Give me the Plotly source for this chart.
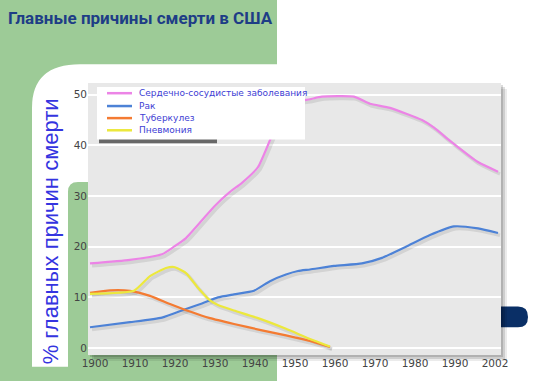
import plotly.graph_objects as go

# ---------------- data ----------------
title_text = "Главные причины смерти в США"
y_title = "% главных причин смерти"

series_names = ["Сердечно-сосудистые заболевания", "Рак", "Туберкулез", "Пневмония"]
series_colors = ["#ec84e6", "#4d82d6", "#f47b32", "#ece83c"]

cv_years = [1900, 1910, 1918, 1921, 1924, 1928, 1931, 1935, 1938, 1942, 1945, 1948, 1951,
            1955, 1958, 1966, 1970, 1975, 1983, 1986, 1990, 1997, 2002]
cv_vals = [16.7, 17.4, 18.5, 20.0, 21.7, 25.2, 27.9, 30.8, 32.6, 35.7, 41.0, 46.3, 48.5,
           49.1, 49.6, 49.6, 48.2, 47.4, 45.0, 43.5, 40.9, 36.7, 34.8]

cancer_years = [1900, 1910, 1918, 1924, 1928, 1932, 1936, 1941, 1945, 1949, 1952, 1955,
                1961, 1968, 1973, 1979, 1985, 1991, 1997, 2002]
cancer_vals = [4.1, 5.1, 6.0, 7.7, 8.8, 10.0, 10.6, 11.3, 13.2, 14.5, 15.2, 15.5,
               16.2, 16.7, 17.8, 20.0, 22.3, 24.0, 23.6, 22.7]

tb_years = [1900, 1905, 1910, 1915, 1920, 1925, 1930, 1936, 1943, 1949, 1955, 1960]
tb_vals = [10.9, 11.4, 11.3, 10.3, 8.7, 7.2, 5.9, 4.75, 3.5, 2.5, 1.4, 0.2]

pn_years = [1900, 1911, 1915, 1919, 1921, 1924, 1927, 1930, 1932, 1936, 1942, 1949, 1955, 1960]
pn_vals = [10.7, 11.3, 14.2, 15.8, 16.0, 14.8, 11.9, 9.4, 8.5, 7.4, 5.9, 3.8, 1.8, 0.3]

x_tickvals = [1900, 1910, 1920, 1930, 1940, 1950, 1960, 1970, 1980, 1990, 2000]
x_ticktext = ["1900", "1910", "1920", "1930", "1940", "1950", "1960", "1970", "1980", "1990", "2002"]
y_tickvals = [0, 10, 20, 30, 40, 50]

# ---------------- layout geometry (pixels) ----------------
W, H = 544, 381
L, R, T, B = 88, 501, 83, 358          # plot area in page pixels


def px(xp):
    return (xp - L) / (R - L)


def py(yp):
    return (B - yp) / (B - T)


def P(xp, yp):
    return f"{px(xp):.5f},{py(yp):.5f}"


GREEN = "#9dcb97"

fig = go.Figure()

series = [
    (cv_years, cv_vals),
    (cancer_years, cancer_vals),
    (tb_years, tb_vals),
    (pn_years, pn_vals),
]

# soft drop shadows of the lines
for xs, ys in series:
    fig.add_trace(go.Scatter(
        x=[v + 0.5 for v in xs], y=[v - 0.45 for v in ys], mode="lines",
        line=dict(color="rgba(0,0,0,0.09)", width=3.5, shape="spline", smoothing=0.5),
        hoverinfo="skip", showlegend=False))

for (xs, ys), name, col in zip(series, series_names, series_colors):
    fig.add_trace(go.Scatter(
        x=xs, y=ys, mode="lines", name=name,
        line=dict(color=col, width=2.2, shape="spline", smoothing=0.5),
        showlegend=False))

shapes = []
# green slide panel
shapes.append(dict(type="rect", xref="paper", yref="paper", layer="below",
                   x0=px(-5), x1=px(277), y0=py(386), y1=py(-5),
                   fillcolor=GREEN, line=dict(width=0)))
# white rounded panel + y-title box
path = (f"M{P(32,370)} L{P(32,108)} Q{P(32,64)} {P(80,64)} L{P(277,64)} L{P(277,183)} "
        f"L{P(78,183)} Q{P(68,183)} {P(68,193)} L{P(68,370)} Z")
shapes.append(dict(type="path", xref="paper", yref="paper", layer="below", path=path,
                   fillcolor="white", line=dict(width=0)))
# dark blue tab on the right
tab = (f"M{P(498,309)} L{P(518,309)} Q{P(528,309)} {P(528,319.5)} "
       f"Q{P(528,330)} {P(518,330)} L{P(498,330)} Z")
shapes.append(dict(type="path", xref="paper", yref="paper", layer="below", path=tab,
                   fillcolor="#0a2f66", line=dict(width=0)))
# plot shadow
for off, a in [(6, 0.08), (4, 0.12), (2, 0.14)]:
    shapes.append(dict(type="rect", xref="paper", yref="paper", layer="below",
                       x0=px(L + off), x1=px(R + off), y0=py(B + off), y1=py(T + off),
                       fillcolor=f"rgba(0,0,0,{a})", line=dict(width=0)))
# plot background
shapes.append(dict(type="rect", xref="paper", yref="paper", layer="below",
                   x0=0, x1=1, y0=0, y1=1, fillcolor="#e8e8e8", line=dict(width=0)))

# legend box (drawn manually to match compact spacing)
LX0, LX1, LY0, LY1 = 97, 305, 87, 140
shapes.append(dict(type="rect", xref="paper", yref="paper", layer="above",
                   x0=px(99), x1=px(217), y0=py(144), y1=py(139),
                   fillcolor="rgba(50,50,50,0.7)", line=dict(width=0)))
shapes.append(dict(type="rect", xref="paper", yref="paper", layer="above",
                   x0=px(LX0), x1=px(LX1), y0=py(LY1), y1=py(LY0),
                   fillcolor="white", line=dict(width=0)))
rows = [93.3, 106.3, 118.5, 130.8]
annotations = []
for yr, name, col in zip(rows, series_names, series_colors):
    shapes.append(dict(type="line", xref="paper", yref="paper", layer="above",
                       x0=px(107), x1=px(132), y0=py(yr), y1=py(yr),
                       line=dict(color=col, width=2.5)))
    annotations.append(dict(xref="paper", yref="paper", x=px(137), y=py(yr),
                            xanchor="left", yanchor="middle", text=name, showarrow=False,
                            font=dict(family="DejaVu Sans, Verdana, sans-serif", size=9,
                                      color="#4040d4")))

# y title in the white box
annotations.append(dict(xref="paper", yref="paper", x=px(50), y=py(233), text=y_title,
                        textangle=-90, showarrow=False, xanchor="center", yanchor="middle",
                        font=dict(family="Liberation Sans, Arial, sans-serif", size=22,
                                  color="#3434e0")))

fig.update_layout(
    width=W, height=H,
    margin=dict(l=L, r=W - R, t=T, b=H - B, pad=0),
    paper_bgcolor="white", plot_bgcolor="#e8e8e8",
    title=dict(text=f"<b>{title_text}</b>", x=8 / W, xanchor="left", xref="container",
               y=1 - 18 / H, yanchor="middle", yref="container",
               font=dict(family="Roboto, Liberation Sans, sans-serif",
                         size=17, color="#1e3d86")),
    shapes=shapes, annotations=annotations, showlegend=False,
    xaxis=dict(range=[1899.5, 2002.75], tickvals=x_tickvals, ticktext=x_ticktext,
               showgrid=False, zeroline=False, showline=False, ticks="",
               ticklabelshift=5,
               tickfont=dict(family="DejaVu Sans, Verdana, sans-serif", size=10.5, color="#444444")),
    yaxis=dict(range=[-1.37, 52.3], tickvals=y_tickvals, showgrid=True, gridcolor="white",
               gridwidth=2, zeroline=False, showline=False, ticks="",
               tickfont=dict(family="DejaVu Sans, Verdana, sans-serif", size=10.5, color="#444444")),
)

fig.write_html("out.html", config={"displayModeBar": False},
               post_script="document.body.style.margin='0px';")
